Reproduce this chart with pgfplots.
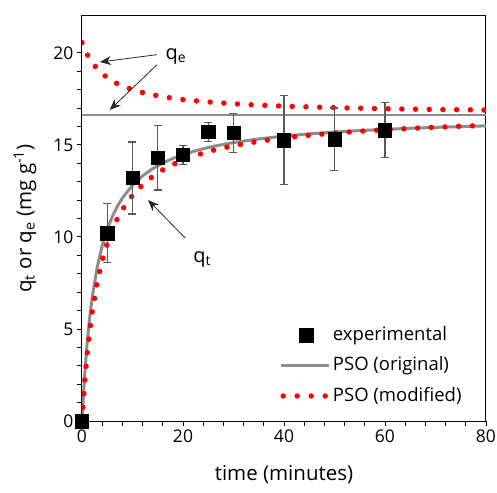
\documentclass[border=0pt]{standalone}
\usepackage{pgfplots}
\pgfplotsset{compat=1.18}
\usepackage{fontspec}
\setmainfont{Open Sans}
\usetikzlibrary{arrows.meta}
\definecolor{psogray}{HTML}{8C8C8C}
\definecolor{errgray}{HTML}{595959}
\begin{document}
\begin{tikzpicture}
\useasboundingbox (-82bp,-72bp) rectangle (415bp,421bp);
\begin{axis}[
  at={(0,0)}, anchor=south west, scale only axis, width=404bp, height=405bp,
  xmin=0, xmax=80, ymin=0, ymax=22,
  xtick={0,20,40,60,80}, ytick={0,5,10,15,20},
  minor x tick num=4, minor y tick num=4,
  tick pos=left, tick align=outside,
  major tick length=5bp, minor tick length=5bp,
  every tick/.style={black, line width=0.9bp},
  axis line style={line width=1bp},
  /pgf/number format/assume math mode=true,
  ticklabel style={font=\fontsize{17.5bp}{21bp}\selectfont},
  label style={font=\fontsize{20.5bp}{24bp}\selectfont},
  xlabel={time (minutes)},
  ylabel={q\textsubscript{t} or q\textsubscript{e} (mg g\textsuperscript{-1})},
  xlabel style={at={(axis description cs:0.5,-0.133)}, anchor=center},
  ylabel style={at={(axis description cs:-0.141,0.5)}, anchor=center},
  legend cell align=left,
  legend style={draw=none, fill=none, inner sep=0pt, outer sep=0pt,
    at={(rel axis cs:0.49,0.237)}, anchor=north west,
    font=\fontsize{18.5bp}{22bp}\selectfont, row sep=10.5bp,
    nodes={inner sep=1bp, text height=14bp, text depth=4bp}},
]
% PSO (original)
\addplot[psogray, line width=2bp, forget plot] coordinates {(0,16.63) (80,16.63)};
\addplot[psogray, line width=3bp, forget plot] coordinates {
(0,0) (0.5,2.386) (1,4.173) (1.5,5.562) (2,6.672) (3,8.336) (4,9.523) (5,10.413)
(6,11.105) (7,11.659) (8,12.111) (10,12.807) (12,13.317) (14,13.707) (16,14.015)
(18,14.264) (20,14.470) (23,14.720) (26,14.917) (30,15.125) (35,15.323) (40,15.475)
(45,15.596) (50,15.693) (55,15.774) (60,15.842) (65,15.900) (70,15.950) (75,15.993) (80,16.032)};
% PSO (modified)
\addplot[red, line width=5.5bp, line cap=round, dash pattern=on 0pt off 13.7bp, forget plot] coordinates {
(0,20.55) (0.5,20.21) (1,19.93) (1.5,19.69) (2,19.48) (3,19.13) (4,18.87) (5,18.65)
(6,18.47) (7,18.32) (8,18.20) (10,18.00) (12,17.84) (14,17.72) (16,17.62) (18,17.53)
(20,17.46) (23,17.38) (26,17.31) (30,17.23) (35,17.16) (40,17.10) (45,17.06) (50,17.02)
(55,16.99) (60,16.96) (65,16.94) (70,16.92) (75,16.91) (80,16.89)};
\addplot[red, line width=5.5bp, line cap=round, dash pattern=on 0pt off 13.7bp, forget plot] coordinates {
(0,0) (0.5,1.998) (1,3.572) (1.5,4.843) (2,5.891) (3,7.518) (4,8.723) (5,9.651)
(6,10.388) (7,10.987) (8,11.484) (10,12.259) (12,12.838) (14,13.285) (16,13.642)
(18,13.933) (20,14.175) (23,14.470) (26,14.705) (30,14.954) (35,15.192) (40,15.376)
(45,15.522) (50,15.641) (55,15.740) (60,15.823) (65,15.894) (70,15.956) (75,16.009) (80,16.057)};
% experimental
\addplot[only marks, mark=square*, mark size=6.7bp, black, forget plot,
  error bars/.cd, y dir=both, y explicit,
  error bar style={errgray, line width=1.3bp},
  error mark options={errgray, line width=1.3bp, mark size=4bp, rotate=90}]
  table[x=t, y=q, y error=e] {
t q e
0 0 0
5 10.2 1.6
10 13.2 1.95
15 14.3 1.75
20 14.45 0.5
25 15.7 0.5
30 15.65 1.05
40 15.25 2.42
50 15.3 1.7
60 15.8 1.5
};
\addlegendimage{legend image code/.code={\fill[black] (25bp,0) +(-6.7bp,-6.7bp) rectangle +(6.7bp,6.7bp); \path[draw=none] (0,0) -- (48bp,0);}}
\addlegendentry{experimental}
\addlegendimage{legend image code/.code={\draw[psogray, line width=2.5bp] (0,0) -- (48bp,0);}}
\addlegendentry{PSO (original)}
\addlegendimage{legend image code/.code={\draw[red, line width=5.5bp, line cap=round, dash pattern=on 0pt off 14bp] (2bp,0) -- (48bp,0);}}
\addlegendentry{PSO (modified)}
% annotations
\node[font=\fontsize{20bp}{24bp}\selectfont] at (axis cs:18.6,19.8) {q\textsubscript{e}};
\draw[-{Stealth[length=11bp,width=9bp]}, line width=0.8bp, black!85] (axis cs:14.85,19.9) -- (axis cs:3.56,19.5);
\draw[-{Stealth[length=11bp,width=9bp]}, line width=0.8bp, black!85] (axis cs:14.85,19.35) -- (axis cs:5.5,16.9);
\node[font=\fontsize{20bp}{24bp}\selectfont] at (axis cs:23.8,8.8) {q\textsubscript{t}};
\draw[-{Stealth[length=11bp,width=9bp]}, line width=0.8bp, black!85] (axis cs:20.4,9.95) -- (axis cs:13.1,12.0);
\end{axis}
\end{tikzpicture}
\end{document}
